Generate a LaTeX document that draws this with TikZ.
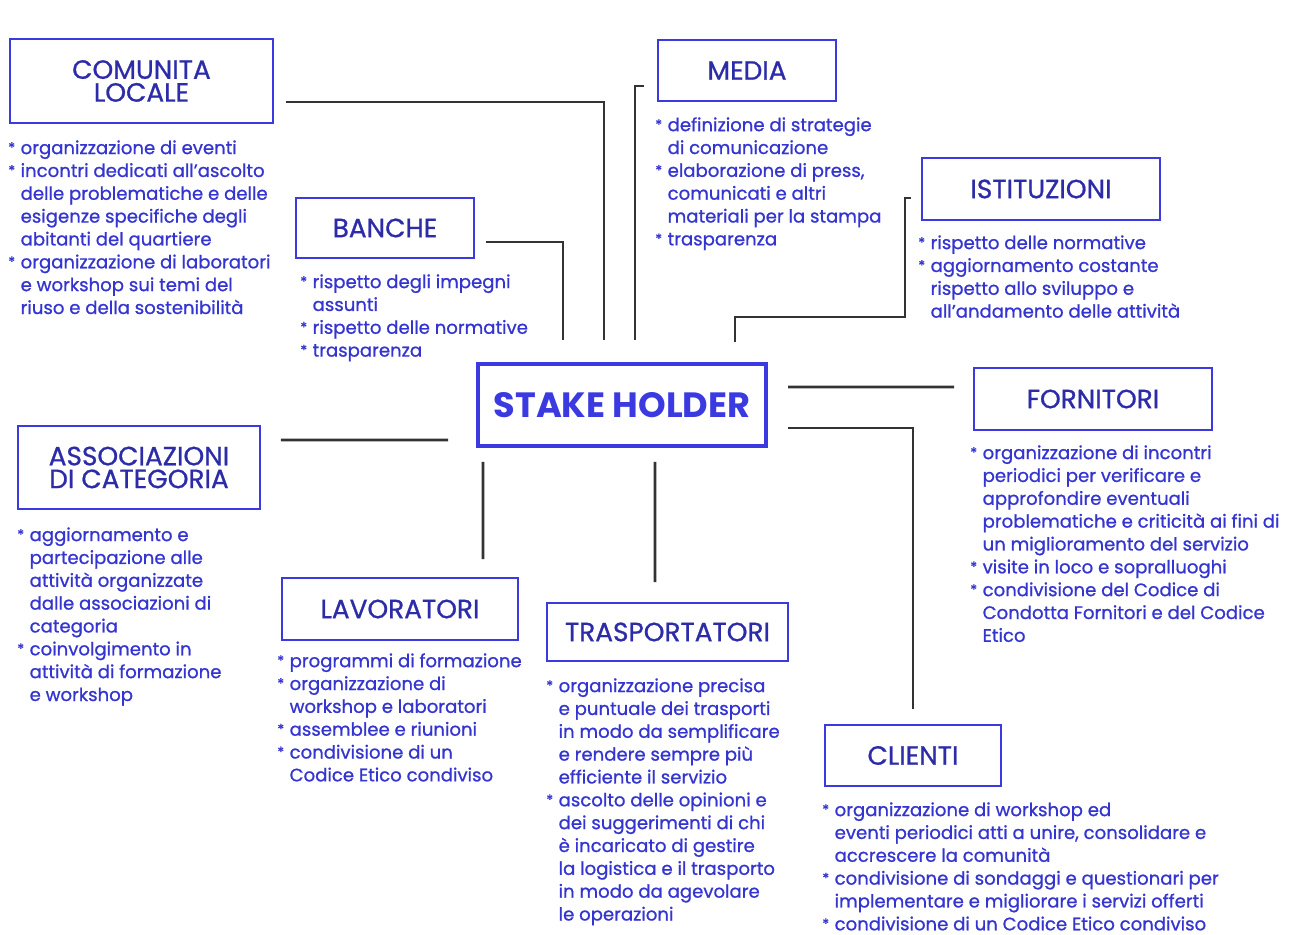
\documentclass[tikz,border=0pt]{standalone}
\usepackage{fontspec}
\setmainfont{Poppins}
\newfontfamily\medfont{Poppins}[FakeBold=0.9]
\definecolor{boxblue}{HTML}{3A3AE0}
\definecolor{titleblue}{HTML}{2C2CA8}
\definecolor{txtblue}{HTML}{3434D0}
\definecolor{linegray}{HTML}{333333}
\newcommand{\bul}{\makebox[7pt][l]{\raisebox{0.15ex}{\footnotesize *}}}
\newcommand{\ind}{\hspace*{7pt}}
\tikzset{
    titlebox/.style={draw=boxblue, line width=1.1pt, text=titleblue, align=center,
        font=\medfont\fontsize{15}{13}\selectfont, inner sep=0pt},
    itemtext/.style={anchor=north west, align=left, text=txtblue,
        font=\medfont\fontsize{10.3}{13}\selectfont, inner sep=0pt},
    link/.style={draw=linegray, line width=1.6pt}
}
\begin{document}
\begin{tikzpicture}[x=0.02cm,y=-0.02cm]
                  \useasboundingbox (0,0) rectangle (1289,935);
                  \node[titlebox, minimum width=5.26cm, minimum height=1.68cm] (comunita) at (141.5,81) {COMUNITA\\LOCALE};
                  \node[titlebox, minimum width=3.56cm, minimum height=1.22cm] (media) at (747,70.5) {MEDIA};
                  \node[titlebox, minimum width=4.76cm, minimum height=1.24cm] (istituzioni) at (1041,189) {ISTITUZIONI};
                  \node[titlebox, minimum width=3.56cm, minimum height=1.2cm] (banche) at (385,228) {BANCHE};
                  \node[titlebox, minimum width=5.76cm, minimum height=1.64cm, line width=2pt, text=boxblue,
                      font=\fontsize{20}{22}\selectfont\bfseries] (stake) at (622,405) {STAKE HOLDER};
                  \node[titlebox, minimum width=4.76cm, minimum height=1.24cm] (fornitori) at (1093,399) {FORNITORI};
                  \node[titlebox, minimum width=4.84cm, minimum height=1.66cm] (associazioni) at (139,467.5) {ASSOCIAZIONI\\DI CATEGORIA};
                  \node[titlebox, minimum width=4.72cm, minimum height=1.24cm] (lavoratori) at (400,609) {LAVORATORI};
                  \node[titlebox, minimum width=4.82cm, minimum height=1.16cm] (trasportatori) at (667.5,632) {TRASPORTATORI};
                  \node[titlebox, minimum width=3.52cm, minimum height=1.22cm] (clienti) at (913,755.5) {CLIENTI};

                  \node[itemtext] (comunitalist) at (8,140) {\bul organizzazione di eventi\\
                      \bul incontri dedicati all’ascolto\\ \ind delle problematiche e delle\\
                      \ind esigenze specifiche degli\\ \ind abitanti del quartiere\\
                      \bul organizzazione di laboratori\\ \ind e workshop sui temi del\\
                      \ind riuso e della sostenibilità};
                  \node[itemtext] (banchelist) at (300,274) {\bul rispetto degli impegni\\ \ind assunti\\
                      \bul rispetto delle normative\\ \bul trasparenza};
                  \node[itemtext] (medialist) at (655,117) {\bul definizione di strategie\\ \ind di comunicazione\\
                      \bul elaborazione di press,\\ \ind comunicati e altri\\ \ind materiali per la stampa\\
                      \bul trasparenza};
                  \node[itemtext] (istituzionilist) at (918,235) {\bul rispetto delle normative\\
                      \bul aggiornamento costante\\ \ind rispetto allo sviluppo e\\
                      \ind all’andamento delle attività};
                  \node[itemtext] (associazionilist) at (17,527) {\bul aggiornamento e\\ \ind partecipazione alle\\
                      \ind attività organizzate\\ \ind dalle associazioni di\\ \ind categoria\\
                      \bul coinvolgimento in\\ \ind attività di formazione\\ \ind e workshop};
                  \node[itemtext] (lavoratorilist) at (277,653) {\bul programmi di formazione\\
                      \bul organizzazione di\\ \ind workshop e laboratori\\ \bul assemblee e riunioni\\
                      \bul condivisione di un\\ \ind Codice Etico condiviso};
                  \node[itemtext] (fornitorilist) at (970,445) {\bul organizzazione di incontri\\
                      \ind periodici per verificare e\\ \ind approfondire eventuali\\
                      \ind problematiche e criticità ai fini di\\ \ind un miglioramento del servizio\\
                      \bul visite in loco e sopralluoghi\\ \bul condivisione del Codice di\\
                      \ind Condotta Fornitori e del Codice\\ \ind Etico};
                  \node[itemtext] (trasportatorilist) at (546,678) {\bul organizzazione precisa\\
                      \ind e puntuale dei trasporti\\ \ind in modo da semplificare\\
                      \ind e rendere sempre più\\ \ind efficiente il servizio\\
                      \bul ascolto delle opinioni e\\ \ind dei suggerimenti di chi\\
                      \ind è incaricato di gestire\\ \ind la logistica e il trasporto\\
                      \ind in modo da agevolare\\ \ind le operazioni};
                  \node[itemtext] (clientilist) at (822,802) {\bul organizzazione di workshop ed\\
                      \ind eventi periodici atti a unire, consolidare e\\ \ind accrescere la comunità\\
                      \bul condivisione di sondaggi e questionari per\\
                      \ind implementare e migliorare i servizi offerti\\
                      \bul condivisione di un Codice Etico condiviso};

                  \coordinate (s1) at (604,340);
                  \coordinate (s2) at (635,340);
                  \coordinate (s3) at (563,340);
                  \coordinate (k4) at (905,317);
                  \coordinate (s4) at (735,342);
                  \coordinate (s5) at (448,440);
                  \coordinate (s6) at (483,462);
                  \coordinate (s7) at (655,462);
                  \coordinate (s8) at (788,387);
                  \coordinate (s9) at (788,428);
                  \draw[link] ([xshift=0.24cm,yshift=-0.42cm]comunita.east) -| (s1);
                  \draw[link] ([xshift=-0.26cm,yshift=-0.31cm]media.west) -| (s2);
                  \draw[link] ([xshift=0.22cm,yshift=-0.28cm]banche.east) -| (s3);
                  \draw[link] ([xshift=-0.2cm,yshift=-0.18cm]istituzioni.west) -| (k4) -| (s4);
                  \draw[link] ([xshift=0.4cm,yshift=0.55cm]associazioni.east) -- (s5);
                  \draw[link] (s6) -- ([xshift=1.66cm,yshift=0.36cm]lavoratori.north);
                  \draw[link] (s7) -- ([xshift=-0.25cm,yshift=0.4cm]trasportatori.north);
                  \draw[link] (s8) -- ([xshift=-0.38cm,yshift=0.24cm]fornitori.west);
                  \draw[link] (s9) -| ([yshift=0.3cm]clienti.north);
              \end{tikzpicture}
\end{document}
